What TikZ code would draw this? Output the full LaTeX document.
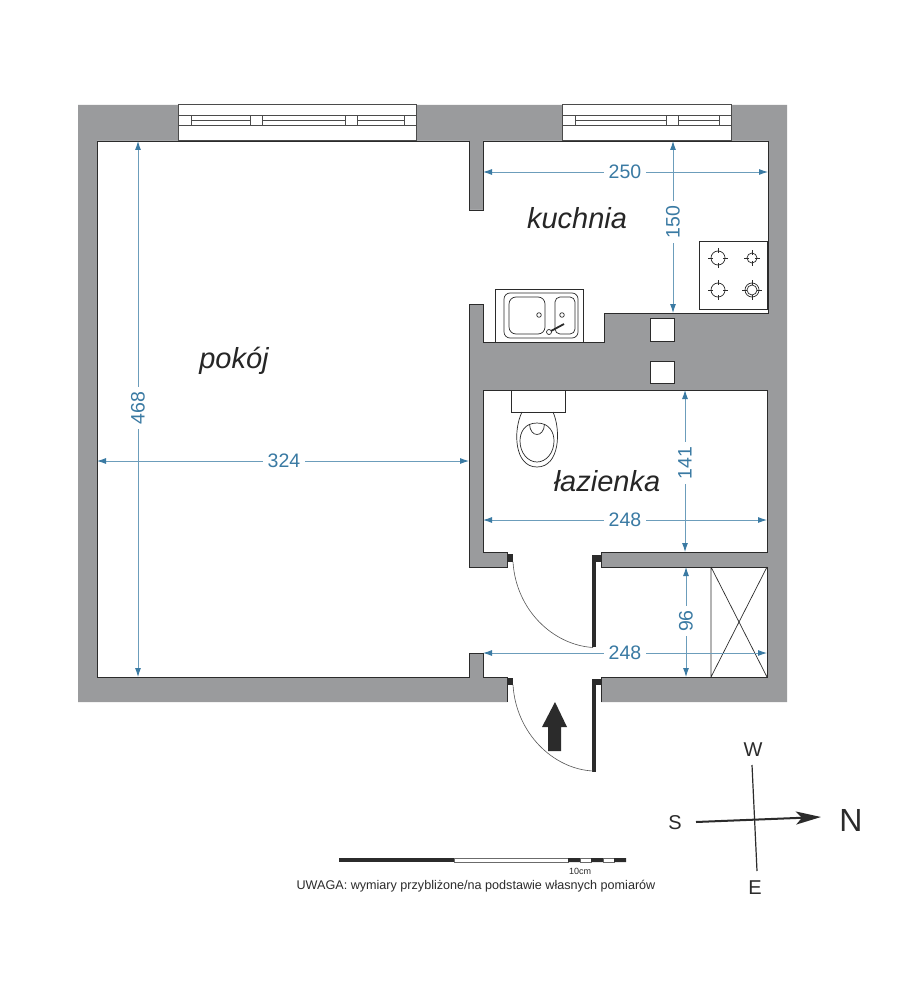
\documentclass[tikz,border=0pt]{standalone}
\usepackage{fontspec}
\setmainfont{Liberation Sans}
\usetikzlibrary{arrows.meta}
\definecolor{wallgray}{HTML}{9A9B9D}
\definecolor{ink}{HTML}{2B2B2B}
\definecolor{dimblue}{HTML}{3A7AA3}
\definecolor{dimline}{HTML}{6C9DBB}
\tikzset{
  plan/.style={draw=ink,line width=0.9pt},
  thin line/.style={draw=ink,line width=0.7pt},
  dimension/.style={draw=dimline,line width=0.9pt,{Latex[length=9pt,width=6pt,color=dimblue]}-{Latex[length=9pt,width=6pt,color=dimblue]}},
  dimlabel/.style={fill=white,text=dimblue,font=\fontsize{19.5}{21}\selectfont,inner sep=4.5pt,inner ysep=1pt},
  room/.style={text=black!85,font=\fontsize{29}{32}\selectfont\itshape,inner sep=0pt},
  compassletter/.style={text=ink,inner sep=0pt},
  doorarc/.style={draw=ink!80,line width=0.6pt},
  jamb/.style={fill=ink,draw=none},
  winline/.style={draw=ink!85,line width=1pt}
}
\newcommand{\dimH}[5]{%
  \coordinate (#1a) at (#3,#2); \coordinate (#1b) at (#4,#2);
  \draw[dimension] (#1a) -- (#1b);
  \node[dimlabel] (#1t) at (#5,#2) {\dimtext};}
\newcommand{\burner}[3]{%
  \draw[thin line] (#1,#2) circle[radius=#3pt];
  \draw[thin line] (#1-#3-3,#2) -- (#1-#3+2,#2) (#1+#3-2,#2) -- (#1+#3+3,#2) (#1,#2-#3-3) -- (#1,#2-#3+2) (#1,#2+#3-2) -- (#1,#2+#3+3);}
\begin{document}
\begin{tikzpicture}[x=1pt,y=-1pt]
\useasboundingbox (0,0) rectangle (919,1000);
\fill[white] (0,0) rectangle (919,1000);
% walls
\fill[wallgray] (78,105) -- (787,105) -- (787,702) -- (601,702) -- (601,665) -- (507,665) -- (507,702) -- (78,702) -- cycle;
\fill[white] (97,141) -- (469,141) -- (469,210) -- (483,210) -- (483,141) -- (768,141) -- (768,313) -- (604,313) -- (604,342) -- (483,342) -- (483,304) -- (469,304) -- (469,567) -- (507,567) -- (507,552) -- (483,552) -- (483,390) -- (767,390) -- (767,552) -- (601,552) -- (601,567) -- (767,567) -- (767,677) -- (483,677) -- (483,653) -- (469,653) -- (469,677) -- (97,677) -- cycle;
\draw[plan] (507,702) -- (507,677) -- (483,677) -- (483,653) -- (469,653) -- (469,677) -- (97,677) -- (97,141) -- (469,141) -- (469,210) -- (483,210) -- (483,141) -- (768,141) -- (768,313) -- (604,313) -- (604,342) -- (483,342) -- (483,304) -- (469,304) -- (469,567) -- (507,567) -- (507,552) -- (483,552) -- (483,390) -- (767,390) -- (767,552) -- (601,552) -- (601,567) -- (767,567) -- (767,677) -- (601,677) -- (601,702);
% windows
\fill[white] (178,105) rectangle (416,141);
\fill[white] (562,105) rectangle (731,141);
\draw[winline] (178,105) rectangle (416,141) (562,105) rectangle (731,141);
\draw[winline] (178,116) rectangle (416,126) (191,120.5) -- (250,120.5) (262,120.5) -- (345,120.5) (357,120.5) -- (404,120.5);
\draw[winline] (191,116) -- (191,126) (250,116) -- (250,126) (262,116) -- (262,126) (345,116) -- (345,126) (357,116) -- (357,126) (404,116) -- (404,126);
\draw[winline] (562,116) rectangle (731,126) (575,120.5) -- (666,120.5) (678,120.5) -- (719,120.5);
\draw[winline] (575,116) -- (575,126) (666,116) -- (666,126) (678,116) -- (678,126) (719,116) -- (719,126);
% vents
\draw[plan,fill=white] (650,318) rectangle (674,341);
\draw[plan,fill=white] (650,361) rectangle (674,383);
% sink
\draw[thin line,fill=white] (495,342) -- (495,289) -- (583,289) -- (583,342);
\draw[thin line,rounded corners=6pt] (504,293) rectangle (578,338);
\draw[thin line,rounded corners=7pt] (509,297) rectangle (545,334);
\draw[thin line,rounded corners=5pt] (555,297) rectangle (575,334);
\draw[thin line] (539,315) circle[radius=2.3pt] (562,315) circle[radius=2.3pt] (549,332) circle[radius=2.5pt];
\draw[ink,line width=1.8pt] (551,331) -- (564,324);
% hob
\draw[plan,fill=white] (699,241) rectangle (767,309);
\burner{718}{258}{7}
\burner{752}{258}{5}
\burner{718}{290}{7}
\burner{752}{290}{7}
\draw[thin line] (752,290) circle[radius=5pt];
% toilet
\draw[plan,fill=white] (511,390) rectangle (565,412);
\draw[thin line] (522,412) .. controls (513,430) and (514,467) .. (537,467) .. controls (560,467) and (561,430) .. (553,412);
\draw[thin line] (537,423) .. controls (524,423) and (520,433) .. (520,441) .. controls (520,453) and (528,462) .. (537,462) .. controls (546,462) and (554,453) .. (554,441) .. controls (554,433) and (550,423) .. (537,423);
\draw[thin line] (529.5,424) .. controls (530,438) and (544,438) .. (544.5,424);
% closet
\draw[thin line] (711,567) -- (711,677) (711,677) -- (767,567) (711,567) -- (767,677);
% doors
\fill[jamb] (507,554) rectangle (513,562);
\fill[jamb] (592,555) rectangle (601,562);
\fill[jamb] (592,555) rectangle (595.5,647);
\draw[doorarc] (513,562) .. controls (516,610) and (553,645) .. (593,647.5);
\fill[jamb] (507,678) rectangle (513,685);
\fill[jamb] (592,679) rectangle (601,685);
\fill[jamb] (592,679) rectangle (595.5,772);
\draw[doorarc] (513,685) .. controls (516,733) and (553,769) .. (593,771);
% entry arrow
\fill[ink] (555,702) -- (567,727) -- (561,727) -- (561,751) -- (548,751) -- (548,727) -- (542,727) -- cycle;
% dimensions
\def\dimtext{250}\dimH{dB}{172}{483}{768}{625}
\def\dimtext{248}\dimH{dC}{520}{483}{767}{625}
\def\dimtext{248}\dimH{dD}{653}{483}{767}{625}
\def\dimtext{324}\dimH{dE}{461}{97}{469}{284}
\coordinate (dFa) at (673,141); \coordinate (dFb) at (673,313);
\draw[dimension] (dFa) -- (dFb);
\node[dimlabel,rotate=90] (dFt) at (673,222) {150};
\coordinate (dGa) at (685,390); \coordinate (dGb) at (685,552);
\draw[dimension] (dGa) -- (dGb);
\node[dimlabel,rotate=90] (dGt) at (685,463) {141};
\coordinate (dHa) at (686,567); \coordinate (dHb) at (686,677);
\draw[dimension] (dHa) -- (dHb);
\node[dimlabel,rotate=90] (dHt) at (686,621) {96};
\coordinate (dIa) at (138,141); \coordinate (dIb) at (138,677);
\draw[dimension] (dIa) -- (dIb);
\node[dimlabel,rotate=90] (dIt) at (138,408) {468};
% rooms
\node[room] (kuchnia) at (577,218) {kuchnia};
\node[room] (pokoj) at (234,361) {pokój};
\node[room] (lazienka) at (607,481) {łazienka};
% compass
\node[compassletter,font=\fontsize{20}{22}\selectfont] (W) at (753,750) {W};
\node[compassletter,font=\fontsize{20}{22}\selectfont] (E) at (755,888) {E};
\node[compassletter,font=\fontsize{20}{22}\selectfont] (S) at (675,823) {S};
\node[compassletter,font=\fontsize{32}{34}\selectfont] (N) at (851,820) {N};
\coordinate (cw) at (752,765); \coordinate (ce) at (757,871);
\coordinate (cs) at (696,822); \coordinate (cn) at (821,817);
\draw[ink,line width=1.2pt] (cw) -- (ce);
\draw[ink,line width=2pt,-{Stealth[length=25pt,width=13pt,inset=6pt]}] (cs) -- (cn);
% scale bar
\fill[ink] (339,858) rectangle (454,862);
\draw[ink!70,line width=0.6pt,fill=white] (454,858) rectangle (568,862);
\draw[ink!70,line width=0.6pt,fill=white] (580,858) rectangle (591,862) (603,858) rectangle (614,862);
\fill[ink] (568,858) rectangle (580,862) (591,858) rectangle (603,862) (614,858) rectangle (626,862);
\node[text=ink,font=\fontsize{9}{10}\selectfont,inner sep=0pt] (tencm) at (580,871) {10cm};
\node[text=ink,font=\fontsize{12.6}{14}\selectfont,inner sep=0pt] (note) at (476,886) {UWAGA: wymiary przybliżone/na podstawie własnych pomiarów};
\end{tikzpicture}
\end{document}
